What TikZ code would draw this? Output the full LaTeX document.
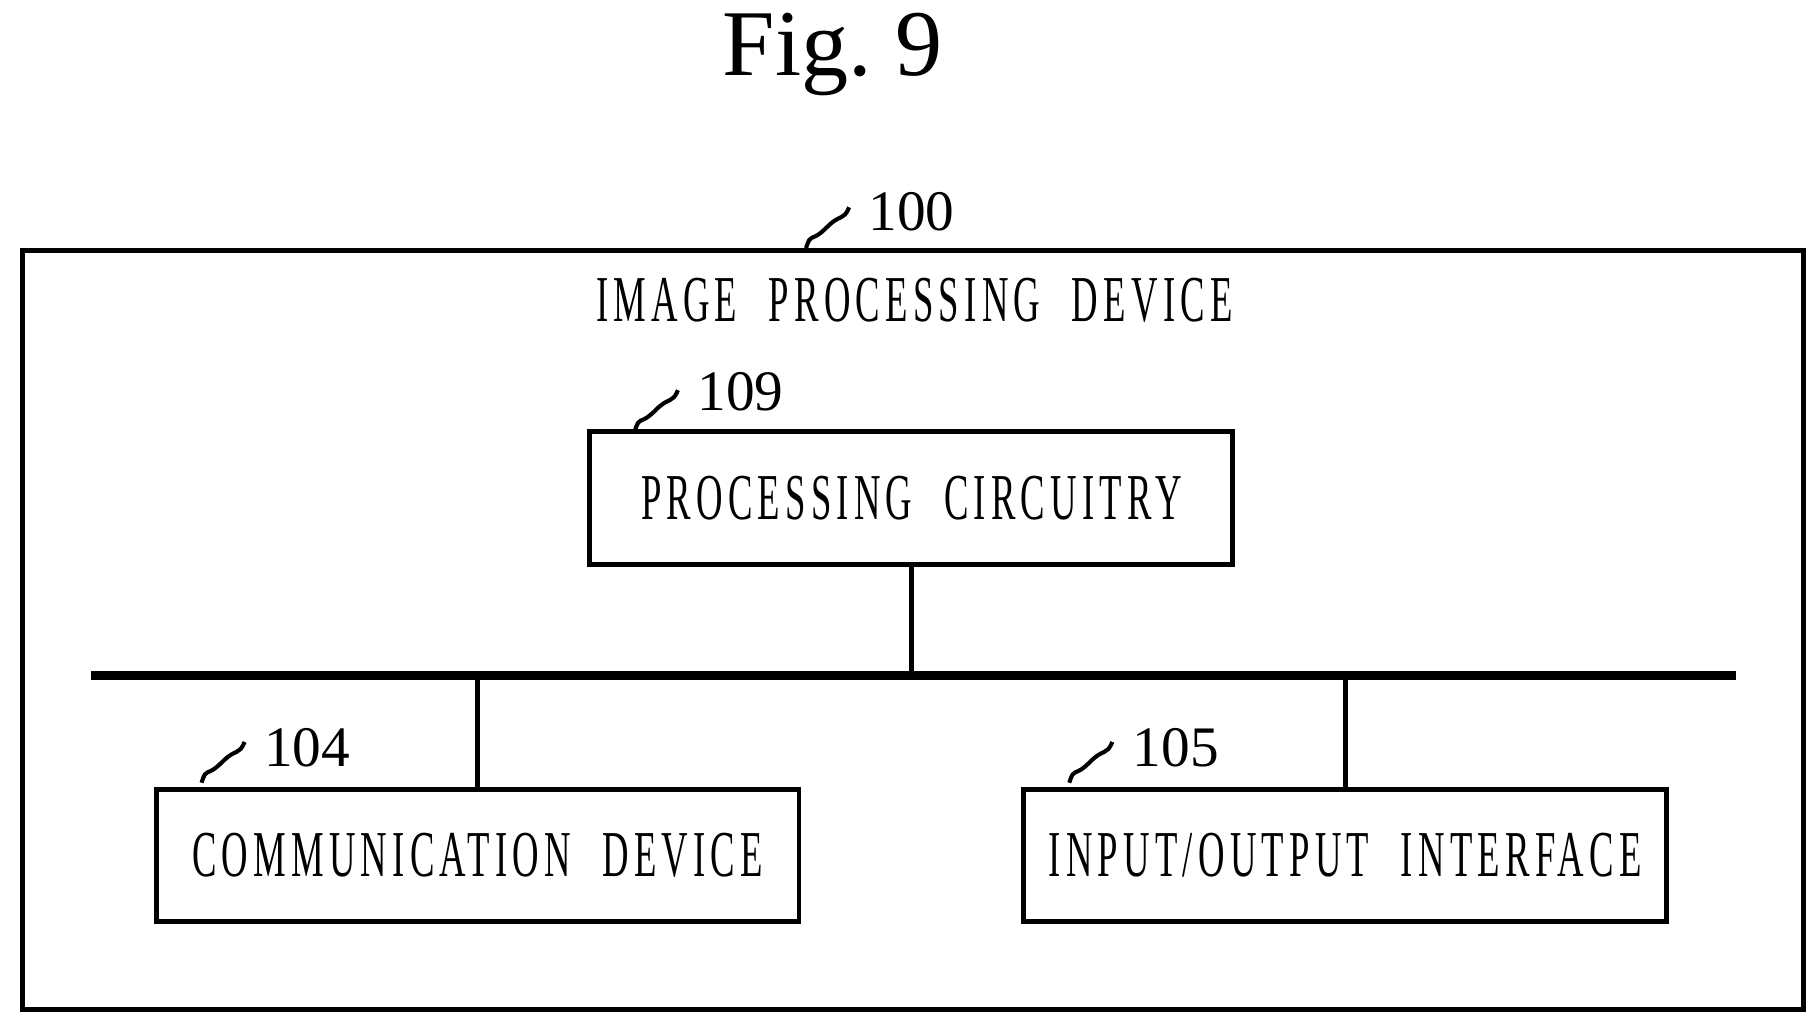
\documentclass[tikz,border=0pt]{standalone}
\usepackage{fontspec}
\setmainfont{Liberation Serif}
\newfontfamily\narrowfont[FakeStretch=0.56,LetterSpace=8,WordSpace=2.2]{Liberation Serif}
\usetikzlibrary{positioning}
\tikzset{
	blk/.style={draw, line width=1.2pt, inner xsep=0pt, minimum width=5.52cm, minimum height=1.14cm, font=\narrowfont\fontsize{16}{16}\selectfont},
	refnum/.style={font=\fontsize{14}{14}\selectfont, anchor=west, inner sep=0pt},
	squig/.style={line width=1pt}
}
\newcommand{\squiggle}[1]{\draw[squig] #1 .. controls +(0.05,-0.15) and +(-0.15,0.15) .. ++(0.18,-0.18) .. controls +(0.12,-0.12) and +(-0.05,0.12) .. ++(0.19,-0.17);}

\begin{document}
\begin{tikzpicture}[yscale=-1]
	\useasboundingbox (0,0) rectangle (15.6,8.834);
	\node (fig) at (7.15,0.47) {\fontsize{23}{23}\selectfont Fig.~9};
	%
	\draw[line width=1.2pt] (0.19,2.15) rectangle (15.48,8.67);
	\node (ipd) at (7.85,2.58) {\narrowfont\fontsize{16}{16}\selectfont IMAGE PROCESSING DEVICE};
	\node[refnum] (n100) at (7.45,1.82) {100};
	\squiggle{(6.92,2.13)}
	%
	\node[blk] (pc) at (7.825,4.275) {PROCESSING CIRCUITRY};
	\node[refnum] (n109) at (5.98,3.36) {109};
	\squiggle{(5.45,3.70)}
	%
	\node[blk] (cd) at (4.10,7.345) {COMMUNICATION DEVICE};
	\node[refnum] (n104) at (2.26,6.42) {104};
	\squiggle{(1.73,6.72)}
	%
	\node[blk] (io) at (11.55,7.345) {INPUT/OUTPUT INTERFACE};
	\node[refnum] (n105) at (9.72,6.42) {105};
	\squiggle{(9.18,6.72)}
	%
	\coordinate (busl) at (0.78,5.80);
	\coordinate (busr) at (14.90,5.80);
	\draw[line width=2pt] (busl) -- (busr);
	\draw[line width=1.2pt] (pc) -- (pc |- busl);
	\draw[line width=1.2pt] (cd) -- (cd |- busl);
	\draw[line width=1.2pt] (io) -- (io |- busl);
\end{tikzpicture}
\end{document}
